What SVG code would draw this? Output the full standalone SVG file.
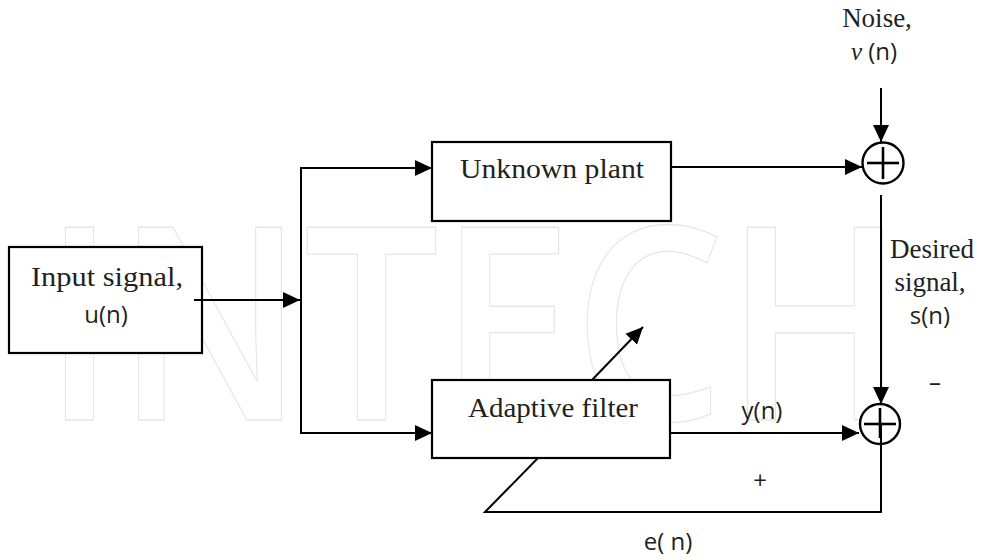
<svg xmlns="http://www.w3.org/2000/svg" width="983" height="560" viewBox="0 0 983 560">
<style>
.box{fill:#fff;stroke:#000;stroke-width:2.2}
.ln{fill:none;stroke:#000;stroke-width:2}
.sum{fill:#fff;stroke:#000;stroke-width:2.4}
.cross{stroke:#000;stroke-width:2.6}
.serif{font-family:"Liberation Serif","Times New Roman",serif;font-size:27px;fill:#231f20}
.sans{font-family:"Open Sans","DejaVu Sans",sans-serif;font-size:24px;fill:#231f20}
.wm{font-family:"Open Sans","Liberation Sans",sans-serif;font-weight:600;font-size:270px;fill:none;stroke:#e6e6e6;stroke-width:1.3}
</style>
<defs>
<marker id="ah" markerUnits="userSpaceOnUse" markerWidth="18" markerHeight="18" viewBox="0 0 18 18" refX="17" refY="9" orient="auto">
<path d="M0,1 L17,9 L0,17 Z" fill="#000"/>
</marker>
</defs>
<text class="wm" x="43" y="420" textLength="862" lengthAdjust="spacingAndGlyphs">INTECH</text>
<g id="input">
<rect class="box" x="9" y="247" width="193" height="106"/>
<text class="serif" x="107" y="286" text-anchor="middle" textLength="152" lengthAdjust="spacingAndGlyphs">Input signal,</text>
<text class="sans" x="106" y="323" text-anchor="middle">u(n)</text>
</g>
<g id="plant">
<rect class="box" x="432" y="142" width="239" height="79"/>
<text class="serif" x="552" y="178" text-anchor="middle" textLength="184" lengthAdjust="spacingAndGlyphs">Unknown plant</text>
</g>
<g id="filter">
<rect class="box" x="432" y="380" width="238" height="78"/>
<text class="serif" x="553" y="417" text-anchor="middle" textLength="170" lengthAdjust="spacingAndGlyphs">Adaptive filter</text>
</g>
<g id="sum1">
<circle class="sum" cx="883" cy="163" r="20.5"/>
<line class="cross" x1="867" y1="163" x2="899" y2="163"/>
<line class="cross" x1="883" y1="147" x2="883" y2="179"/>
</g>
<g id="sum2">
<circle class="sum" cx="880" cy="424" r="20"/>
<line class="cross" x1="864" y1="424" x2="896" y2="424"/>
<line class="cross" x1="880" y1="408" x2="880" y2="438"/>
</g>
<g id="connectors">
<line class="ln" x1="194" y1="300" x2="300" y2="300" marker-end="url(#ah)"/>
<polyline class="ln" points="301,434 301,168 432,168" marker-end="url(#ah)"/>
<line class="ln" x1="301" y1="433" x2="432" y2="433" marker-end="url(#ah)"/>
<line class="ln" x1="671" y1="167" x2="862" y2="167" marker-end="url(#ah)"/>
<line class="ln" x1="881" y1="88" x2="881" y2="142" marker-end="url(#ah)"/>
<line class="ln" x1="881" y1="195" x2="881" y2="404" marker-end="url(#ah)"/>
<line class="ln" x1="670" y1="433" x2="859" y2="433" marker-end="url(#ah)"/>
<polyline class="ln" points="881,424 881,512 485,512 538,458"/>
<line class="ln" x1="592" y1="380" x2="643" y2="327" marker-end="url(#ah)"/>
</g>
<g id="labels">
<text class="serif" x="877" y="27" text-anchor="middle">Noise,</text>
<text x="874" y="60" text-anchor="middle"><tspan font-family="Liberation Serif,serif" font-style="italic" font-size="25" fill="#231f20">ν</tspan><tspan class="sans" font-size="22"> (n)</tspan></text>
<text class="serif" x="932" y="258" text-anchor="middle">Desired</text>
<text class="serif" x="930" y="291" text-anchor="middle">signal,</text>
<text class="sans" x="930" y="324" text-anchor="middle">s(n)</text>
<text class="sans" x="935" y="391" text-anchor="middle" font-size="28">–</text>
<text class="sans" x="762" y="419" text-anchor="middle">y(n)</text>
<text class="sans" x="760" y="489" text-anchor="middle" font-size="20">+</text>
<text class="sans" x="668" y="550" text-anchor="middle">e( n)</text>
</g>
</svg>
